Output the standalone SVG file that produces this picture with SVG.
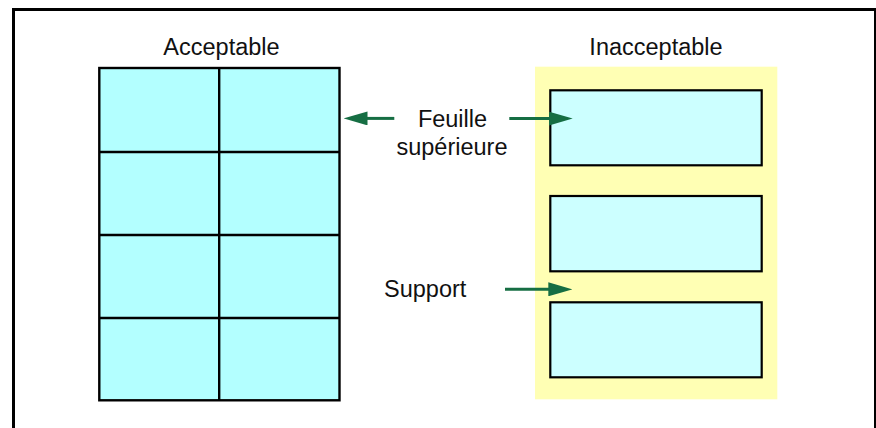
<svg xmlns="http://www.w3.org/2000/svg" width="876" height="428" viewBox="0 0 876 428">
  <style>
    .lbl { font-family: "Liberation Sans", Arial, sans-serif; font-size: 23.5px; fill: #111111; }
    .cell { fill: #B3FFFF; stroke: #000000; stroke-width: 2.4; }
    .grid { stroke: #000000; stroke-width: 2.4; fill: none; }
    .lab { fill: #CCFFFF; stroke: #000000; stroke-width: 2.2; }
    .arrow { stroke: #166E43; stroke-width: 3; fill: none; marker-end: url(#ah); }
  </style>
  <defs>
    <marker id="ah" markerUnits="userSpaceOnUse" markerWidth="24" markerHeight="14" refX="2" refY="7" orient="auto" viewBox="0 0 24 14">
      <path d="M0,0 L24,7 L0,14 Z" fill="#166E43"/>
    </marker>
  </defs>
  <rect x="0" y="0" width="876" height="428" fill="#FFFFFF"/>
  <rect id="frame" x="13.5" y="9.5" width="862" height="430" fill="none" stroke="#000000" stroke-width="3"/>

  <g id="acceptable">
    <text class="lbl" x="221.5" y="55" text-anchor="middle">Acceptable</text>
    <rect class="cell" x="99.3" y="68" width="240.2" height="332.3"/>
    <line class="grid" x1="219.2" y1="68" x2="219.2" y2="400.3"/>
    <line class="grid" x1="99.3" y1="152" x2="339.5" y2="152"/>
    <line class="grid" x1="99.3" y1="235" x2="339.5" y2="235"/>
    <line class="grid" x1="99.3" y1="318" x2="339.5" y2="318"/>
  </g>

  <g id="inacceptable">
    <text class="lbl" x="656" y="55" text-anchor="middle">Inacceptable</text>
    <rect x="535" y="66.7" width="242.3" height="332.6" fill="#FFFFB4"/>
    <rect class="lab" x="550.3" y="90.3" width="211.4" height="75"/>
    <rect class="lab" x="550.3" y="196" width="211.4" height="75.3"/>
    <rect class="lab" x="550.3" y="302.3" width="211.4" height="75"/>
  </g>

  <g id="label-feuille">
    <text class="lbl" x="452.5" y="126.7" text-anchor="middle">Feuille</text>
    <text class="lbl" x="452" y="155" text-anchor="middle">supérieure</text>
  </g>
  <g id="label-support">
    <text class="lbl" x="384" y="296.7">Support</text>
  </g>

  <g id="connectors">
    <line class="arrow" x1="394.3" y1="118.4" x2="365.5" y2="118.4"/>
    <line class="arrow" x1="509.3" y1="118.6" x2="550.7" y2="118.6"/>
    <line class="arrow" x1="505" y1="289.3" x2="550.3" y2="289.3"/>
  </g>
</svg>
